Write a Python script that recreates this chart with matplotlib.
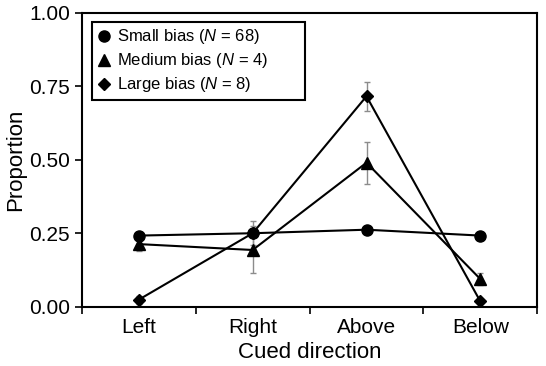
import numpy as np
import matplotlib
matplotlib.use("Agg")
import matplotlib.pyplot as plt

plt.rcParams['font.family'] = ['Liberation Sans', 'DejaVu Sans']
plt.rcParams['mathtext.fontset'] = 'custom'
plt.rcParams['mathtext.it'] = 'Liberation Sans:italic'
plt.rcParams['mathtext.rm'] = 'Liberation Sans'

directions = ["Left", "Right", "Above", "Below"]
small = [0.242, 0.250, 0.262, 0.242]
small_err = [0.005, 0.005, 0.005, 0.005]
medium = [0.213, 0.193, 0.490, 0.094]
medium_err = [0.022, 0.080, 0.072, 0.020]
large = [0.024, 0.250, 0.716, 0.018]
large_err = [0.014, 0.040, 0.050, 0.008]

labels = ["Small bias ($N$ = 68)", "Medium bias ($N$ = 4)", "Large bias ($N$ = 8)"]
markers = ["o", "^", "D"]
sizes = [8, 8.5, 6.5]

fig = plt.figure(figsize=(5.46, 3.66), dpi=100)
ax = fig.add_axes([0.150, 0.162, 0.834, 0.803])

x = np.arange(1, len(directions) + 1)
for vals, err, lab, m, s in zip([small, medium, large], [small_err, medium_err, large_err],
                               labels, markers, sizes):
    ax.errorbar(x, vals, yerr=err, fmt="none", ecolor="#8c8c8c", elinewidth=1,
                capsize=2.5, capthick=1, zorder=2)
    ax.plot(x, vals, color="black", lw=1.5, marker=m, markersize=s, label=lab, zorder=3)

ax.set_xlim(0.5, 4.5)
ax.set_ylim(0, 1)
ax.set_xticks(x)
ax.set_xticklabels(directions)
ax.set_xticks(np.arange(0.5, 4.6, 1), minor=True)
ax.tick_params(axis="x", which="major", length=0, labelsize=15, pad=8)
ax.tick_params(axis="x", which="minor", length=5, width=1.2, direction="out")
ax.set_yticks([0, 0.25, 0.5, 0.75, 1.0])
ax.set_yticklabels(["0.00", "0.25", "0.50", "0.75", "1.00"])
ax.tick_params(axis="y", labelsize=15, length=5, width=1.2, direction="out")
for sp in ax.spines.values():
    sp.set_linewidth(1.5)
    sp.set_color("black")

ax.set_xlabel("Cued direction", fontsize=16, labelpad=4)
ax.set_ylabel("Proportion", fontsize=16, labelpad=2)

leg = ax.legend(loc="upper left", fontsize=12, frameon=True, fancybox=False,
                framealpha=1, edgecolor="black", borderpad=0.35, handlelength=0.8,
                handletextpad=0.35, labelspacing=0.3, borderaxespad=0, mode="expand",
                bbox_to_anchor=(0.022, 0.97, 0.467, 0.0))
leg.get_frame().set_linewidth(1.5)
for h in leg.get_lines():
    h.set_linestyle("none")

fig.savefig("out.png", dpi=100)
